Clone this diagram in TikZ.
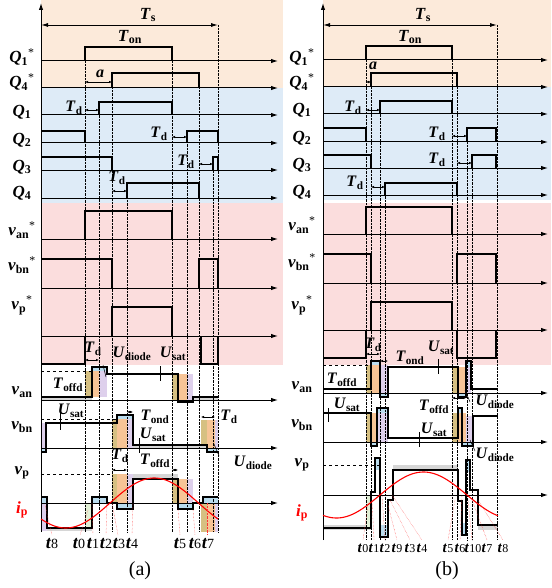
\documentclass[tikz,border=0pt]{standalone}
\usepackage{fontspec}
\setmainfont{Liberation Serif}
\usetikzlibrary{arrows.meta}

\definecolor{bgorange}{RGB}{252,234,218}
\definecolor{bgblue}{RGB}{222,235,247}
\definecolor{bgpink}{RGB}{251,221,221}
\definecolor{khaki}{RGB}{214,192,130}
\definecolor{orng}{RGB}{247,196,150}
\definecolor{lav}{RGB}{222,208,236}
\definecolor{lblue}{RGB}{186,220,238}
\definecolor{lgrey}{RGB}{214,214,214}
\definecolor{lgreen}{RGB}{226,240,214}

\newcommand{\sgl}[2]{\textbf{\textit{#1}}\textsubscript{\textbf{#2}}}
\newcommand{\sgs}[2]{\textbf{\textit{#1}}\textsubscript{\textbf{#2}}\textsuperscript{*}}
\newcommand{\tma}[1]{{\fontsize{18}{18}\selectfont\textbf{\textit{t}}}{\fontsize{14}{14}\selectfont #1}}
\newcommand{\tmb}[1]{{\fontsize{15}{15}\selectfont\textbf{\textit{t}}}{\fontsize{12}{12}\selectfont #1}}

\begin{document}
\begin{tikzpicture}[x=1pt, y=-1pt,
    wave/.style={line width=1.1pt},
    taxis/.style={-{Latex[length=7pt,width=4.5pt]}, line width=1pt},
    period/.style={{Latex[length=7pt,width=4pt]}-{Latex[length=7pt,width=4pt]}, line width=0.9pt},
    dim/.style={{Latex[length=3pt,width=2.5pt]}-{Latex[length=3pt,width=2.5pt]}, line width=0.5pt},
    levtick/.style={line width=0.5pt},
    guide/.style={densely dotted, line width=0.4pt},
    tguide/.style={densely dotted, red!80, line width=0.4pt},
    lab/.style={font=\fontsize{17}{17}\selectfont, inner sep=0pt},
    note/.style={font=\fontsize{16}{16}\selectfont, inner sep=0pt},
    tlab/.style={inner sep=0pt}
]
\useasboundingbox (0,0) rectangle (551,588);

% backgrounds
\fill[bgorange] (41,0) rectangle (283,88);
\fill[bgblue] (41,88) rectangle (283,203);
\fill[bgpink] (41,203) rectangle (283,365);
\fill[bgorange] (323,0) rectangle (551,87);
\fill[bgblue] (323,87) rectangle (551,200);
\fill[bgpink] (323,203) rectangle (551,365);

% transition bands (a)
\fill[khaki] (85,371) rectangle (92,397);
\fill[orng] (92,371) rectangle (99,397);
\fill[lav] (99,371) rectangle (107,397);
\fill[lblue] (92,367) rectangle (107,371);
\fill[khaki] (172,374) rectangle (178,400);
\fill[orng] (178,374) rectangle (187,400);
\fill[lav] (187,374) rectangle (193,400);
\fill[lblue] (178,400) rectangle (193,402);
\fill[lgrey] (41,397) rectangle (92,400);
\fill[lgrey] (193,397) rectangle (218,400);
\fill[lav] (41,423) rectangle (46,448);
\fill[lblue] (41,448) rectangle (46,452);
\fill[khaki] (112,419) rectangle (117,448);
\fill[orng] (117,419) rectangle (127,448);
\fill[lav] (127,419) rectangle (133,448);
\fill[lblue] (117,415) rectangle (133,419);
\fill[khaki] (201,420) rectangle (207,448);
\fill[orng] (207,420) rectangle (215,448);
\fill[lav] (215,420) rectangle (218,448);
\fill[lblue] (207,448) rectangle (218,452);
\fill[lgrey] (133,445) rectangle (207,448);
\fill[lgrey] (133,474) rectangle (178,479);
\fill[khaki] (112,474) rectangle (117,503);
\fill[orng] (117,474) rectangle (127,503);
\fill[lav] (127,474) rectangle (133,503);
\fill[khaki] (172,479) rectangle (178,503);
\fill[orng] (178,479) rectangle (187,503);
\fill[lav] (187,479) rectangle (193,503);
\fill[lblue] (41,497) rectangle (47,503);
\fill[lblue] (92,497) rectangle (107,503);
\fill[lblue] (117,503) rectangle (133,509);
\fill[lblue] (178,503) rectangle (193,509);
\fill[lblue] (203,497) rectangle (218,503);
\fill[lav] (41,503) rectangle (47,531);
\fill[lgrey] (47,528) rectangle (92,531);
\fill[lgreen] (85,503) rectangle (92,528);
\fill[khaki] (201,503) rectangle (207,532);
\fill[orng] (207,503) rectangle (215,532);
\fill[lav] (215,503) rectangle (218,532);

% transition bands (b)
\fill[khaki] (366,365) rectangle (371,393);
\fill[orng] (371,365) rectangle (380,393);
\fill[lav] (380,365) rectangle (388,393);
\fill[lblue] (371,361) rectangle (380,365);
\fill[lblue] (380,393) rectangle (388,397);
\fill[khaki] (452,367) rectangle (458,393);
\fill[orng] (458,367) rectangle (466,393);
\fill[lav] (466,367) rectangle (471,393);
\fill[lblue] (458,393) rectangle (466,397);
\fill[lblue] (466,361) rectangle (471,367);
\fill[khaki] (366,413) rectangle (371,442);
\fill[orng] (371,413) rectangle (377,442);
\fill[lav] (377,413) rectangle (388,442);
\fill[lblue] (371,442) rectangle (377,446);
\fill[lblue] (377,408) rectangle (388,413);
\fill[khaki] (452,413) rectangle (458,442);
\fill[orng] (458,413) rectangle (466,442);
\fill[lav] (466,416) rectangle (473,442);
\fill[lblue] (458,408) rectangle (462,413);
\fill[lblue] (462,442) rectangle (473,446);
\fill[lgrey] (393,465) rectangle (458,470);
\fill[lblue] (375,458) rectangle (380,470);
\fill[lblue] (380,525) rectangle (388,537);
\fill[lblue] (462,523) rectangle (466,535);
\fill[lblue] (466,460) rectangle (470,472);
\fill[lgrey] (323,525) rectangle (371,530);
\fill[lgrey] (478,525) rectangle (498,530);
\fill[lgreen] (366,495) rectangle (371,528);

% dotted guides
\foreach \x/\ya in {85/47, 99/102, 112/73, 127/183, 172/47, 187/131, 199/73, 213/157, 218/25}
  \draw[guide] (\x,\ya) -- (\x,532);
\foreach \x/\ya in {366/46, 371/73, 380/101, 385/183, 452/46, 457/73, 467/128, 472/155, 497/25}
  \draw[guide] (\x,\ya) -- (\x,540);

% dashed reference levels
\draw[dashed, line width=0.7pt] (41,371) -- (92,371);
\draw[dashed, line width=0.7pt] (41,419) -- (117,419);
\draw[dashed, line width=0.7pt] (41,474) -- (112,474);
\draw[dashed, line width=0.7pt] (323,365) -- (371,365);
\draw[dashed, line width=0.7pt] (323,413) -- (371,413);
\draw[dashed, line width=0.7pt] (323,465) -- (380,465);

% axes
\foreach \y in {61,88,115,143,170,198,239,288,336,400,448,503}
  \draw[taxis] (41,\y) -- (278,\y);
\foreach \y in {60,87,114,142,168,195,234,283,330,393,442,495}
  \draw[taxis] (323,\y) -- (548,\y);
\draw[taxis] (41,532) -- (41,3);
\draw[taxis] (323,540) -- (323,3);
\draw[period] (41,25) -- (218,25);
\draw[period] (323,25) -- (497,25);

% waveforms (a)
\draw[wave] (85,61) -- (85,47) -- (172,47) -- (172,61);
\draw[wave] (112,88) -- (112,73) -- (199,73) -- (199,88);
\draw[wave] (99,115) -- (99,102) -- (172,102) -- (172,115);
\draw[wave] (41,131) -- (85,131) -- (85,143);
\draw[wave] (187,143) -- (187,131) -- (218,131) -- (218,143);
\draw[wave] (41,157) -- (112,157) -- (112,170);
\draw[wave] (213,170) -- (213,157) -- (218,157) -- (218,170);
\draw[wave] (127,198) -- (127,183) -- (199,183) -- (199,198);
\draw[wave] (85,239) -- (85,211) -- (172,211) -- (172,239);
\draw[wave] (41,259) -- (112,259) -- (112,288);
\draw[wave] (199,288) -- (199,259) -- (218,259) -- (218,288);
\draw[wave] (112,336) -- (112,307) -- (172,307) -- (172,336);
\draw[wave] (41,364) -- (85,364) -- (85,336);
\draw[wave] (201,336) -- (201,364) -- (218,364) -- (218,336);
\draw[wave] (41,397) -- (92,397) -- (92,367) -- (107,367) -- (107,374) -- (178,374)
  -- (178,402) -- (193,402) -- (193,397) -- (218,397);
\draw[wave] (41,452) -- (46,452) -- (46,423) -- (117,423) -- (117,415) -- (133,415)
  -- (133,445) -- (207,445) -- (207,452) -- (218,452);
\draw[wave] (41,497) -- (47,497) -- (47,528) -- (92,528) -- (92,497) -- (107,497)
  -- (107,503) -- (117,503) -- (117,509) -- (133,509) -- (133,479) -- (178,479)
  -- (178,509) -- (193,509) -- (193,503) -- (203,503) -- (203,497) -- (218,497);
\draw[red, line width=1.1pt, domain=41:218, samples=80] plot (\x, {503-25*sin(2.0339*(\x-110))});

% waveforms (b)
\draw[wave] (366,60) -- (366,46) -- (452,46) -- (452,60);
\draw[wave] (371,87) -- (371,73) -- (457,73) -- (457,87);
\draw[wave] (380,114) -- (380,101) -- (452,101) -- (452,114);
\draw[wave] (323,128) -- (366,128) -- (366,142);
\draw[wave] (467,142) -- (467,128) -- (496,128) -- (496,142);
\draw[wave] (323,155) -- (371,155) -- (371,168);
\draw[wave] (472,168) -- (472,155) -- (496,155) -- (496,168);
\draw[wave] (385,195) -- (385,183) -- (457,183) -- (457,195);
\draw[wave] (366,234) -- (366,207) -- (452,207) -- (452,234);
\draw[wave] (323,254) -- (371,254) -- (371,283);
\draw[wave] (457,283) -- (457,254) -- (496,254) -- (496,283);
\draw[wave] (371,330) -- (371,302) -- (452,302) -- (452,330);
\draw[wave] (323,358) -- (366,358) -- (366,330);
\draw[wave] (457,330) -- (457,358) -- (496,358) -- (496,330);
\draw[wave] (323,389) -- (371,389) -- (371,361) -- (380,361) -- (380,397) -- (388,397)
  -- (388,367) -- (458,367) -- (458,397) -- (466,397) -- (466,361) -- (471,361)
  -- (471,389) -- (498,389);
\draw[wave] (323,413) -- (371,413) -- (371,446) -- (377,446) -- (377,408) -- (388,408)
  -- (388,438) -- (458,438) -- (458,408) -- (462,408) -- (462,446) -- (473,446)
  -- (473,416) -- (498,416);
\draw[wave] (323,528) -- (371,528) -- (371,492) -- (375,492) -- (375,458) -- (380,458)
  -- (380,537) -- (388,537) -- (388,500) -- (393,500) -- (393,470) -- (458,470)
  -- (458,501) -- (462,501) -- (462,535) -- (466,535) -- (466,460) -- (470,460)
  -- (470,490) -- (478,490) -- (478,525) -- (498,525);
\draw[red, line width=1.1pt, domain=323:498, samples=80] plot (\x, {495-23*sin(2.069*(\x-380))});

% time spans (a)
\draw[dim] (85,82) -- (112,82);
\draw[dim] (85,110) -- (99,110);
\draw[dim] (172,137) -- (187,137);
\draw[dim] (199,164) -- (213,164);
\draw[dim] (112,191) -- (127,191);
\draw[dim] (85,360) -- (99,360);
\draw[dim] (127,412) -- (133,412);
\draw[dim] (201,417) -- (215,417);
\draw[dim] (112,470) -- (127,470);
\draw[dim] (172,470) -- (178,470);
\draw[levtick] (60,413) -- (60,430);
\draw[levtick] (103,365) -- (106,377);
\draw[levtick] (160,366) -- (160,381);
\draw[levtick] (139,438) -- (139,453);
\draw[levtick] (214,444) -- (219,456);

% time spans (b)
\draw[dim] (366,82) -- (371,82);
\draw[dim] (366,110) -- (380,110);
\draw[dim] (452,136) -- (467,136);
\draw[dim] (457,163) -- (472,163);
\draw[dim] (371,187) -- (385,187);
\draw[dim] (366,354) -- (380,354);
\draw[dim] (380,361) -- (388,361);
\draw[dim] (452,398) -- (466,398);
\draw[levtick] (328,408) -- (328,422);
\draw[levtick] (438,359) -- (438,374);
\draw[levtick] (419,432) -- (419,447);
\draw[levtick] (465,390) -- (470,402);
\draw[levtick] (470,440) -- (475,451);

% signal names (a)
\node[lab] (q1sa) at (22,57) {\sgs{Q}{1}};
\node[lab] (q4sa) at (22,82) {\sgs{Q}{4}};
\node[lab] (q1a) at (22,112) {\sgl{Q}{1}};
\node[lab] (q2a) at (22,140) {\sgl{Q}{2}};
\node[lab] (q3a) at (22,167) {\sgl{Q}{3}};
\node[lab] (q4a) at (22,193) {\sgl{Q}{4}};
\node[lab] (vansa) at (22,230) {\sgs{v}{an}};
\node[lab] (vbnsa) at (22,265) {\sgs{v}{bn}};
\node[lab] (vpsa) at (22,305) {\sgs{v}{p}};
\node[lab] (vana) at (22,392) {\sgl{v}{an}};
\node[lab] (vbna) at (22,427) {\sgl{v}{bn}};
\node[lab] (vpa) at (22,473) {\sgl{v}{p}};
\node[lab, red] (ipa) at (22,510) {\sgl{i}{p}};

% signal names (b)
\node[lab] (q1sb) at (302,57) {\sgs{Q}{1}};
\node[lab] (q4sb) at (302,82) {\sgs{Q}{4}};
\node[lab] (q1b) at (302,110) {\sgl{Q}{1}};
\node[lab] (q2b) at (302,138) {\sgl{Q}{2}};
\node[lab] (q3b) at (302,165) {\sgl{Q}{3}};
\node[lab] (q4b) at (302,192) {\sgl{Q}{4}};
\node[lab] (vansb) at (302,225) {\sgs{v}{an}};
\node[lab] (vbnsb) at (302,262) {\sgs{v}{bn}};
\node[lab] (vpsb) at (302,305) {\sgs{v}{p}};
\node[lab] (vanb) at (302,387) {\sgl{v}{an}};
\node[lab] (vbnb) at (302,425) {\sgl{v}{bn}};
\node[lab] (vpb) at (302,465) {\sgl{v}{p}};
\node[lab, red] (ipb) at (302,513) {\sgl{i}{p}};

% annotations (a)
\node[lab] (tsa) at (148,15) {\sgl{T}{s}};
\node[lab] (tona) at (130,37) {\sgl{T}{on}};
\node[note] (alpa) at (100,74) {\textbf{\textit{a}}};
\node[note] (td1a) at (74,108) {\sgl{T}{d}};
\node[note] (td2a) at (159,134) {\sgl{T}{d}};
\node[note] (td3a) at (186,162) {\sgl{T}{d}};
\node[note] (td4a) at (117,178) {\sgl{T}{d}};
\node[note] (td5a) at (93,349) {\sgl{T}{d}};
\node[note] (uda) at (132,354) {\sgl{U}{diode}};
\node[note] (usa) at (173,354) {\sgl{U}{sat}};
\node[note] (tfa) at (68,385) {\sgl{T}{offd}};
\node[note] (us2a) at (71,411) {\sgl{U}{sat}};
\node[note] (tna) at (155,417) {\sgl{T}{ond}};
\node[note] (td6a) at (229,417) {\sgl{T}{d}};
\node[note] (us3a) at (153,435) {\sgl{U}{sat}};
\node[note] (tf2a) at (155,461) {\sgl{T}{offd}};
\node[note] (ud2a) at (253,463) {\sgl{U}{diode}};
\node[note] (td7a) at (120,456) {\sgl{T}{d}};

% annotations (b)
\node[lab] (tsb) at (423,15) {\sgl{T}{s}};
\node[lab] (tonb) at (410,37) {\sgl{T}{on}};
\node[note] (alpb) at (373,66) {\textbf{\textit{a}}};
\node[note] (td1b) at (353,108) {\sgl{T}{d}};
\node[note] (td2b) at (437,134) {\sgl{T}{d}};
\node[note] (td3b) at (437,160) {\sgl{T}{d}};
\node[note] (td4b) at (355,183) {\sgl{T}{d}};
\node[note] (td5b) at (373,345) {\sgl{T}{d}};
\node[note] (tnb) at (410,358) {\sgl{T}{ond}};
\node[note] (usb) at (441,348) {\sgl{U}{sat}};
\node[note] (tfb) at (342,380) {\sgl{T}{offd}};
\node[note] (us2b) at (347,405) {\sgl{U}{sat}};
\node[note] (tf2b) at (434,407) {\sgl{T}{offd}};
\node[note] (udb) at (495,402) {\sgl{U}{diode}};
\node[note] (us3b) at (434,430) {\sgl{U}{sat}};
\node[note] (ud2b) at (495,455) {\sgl{U}{diode}};

% instants (a)
\foreach \nm/\xe/\ye/\xl in {8/45/505/52, 0/88/510/80, 1/92/503/93, 2/107/503/106,
    3/112/503/118, 4/133/503/132, 5/178/509/180, 6/193/509/195, 7/207/503/207}
  \draw[tguide] (\xe,\ye) -- (\xl,535);
\node[tlab] (t8a) at (52,544) {\tma{8}};
\node[tlab] (t0a) at (79,544) {\tma{0}};
\node[tlab] (t1a) at (93,544) {\tma{1}};
\node[tlab] (t2a) at (106,544) {\tma{2}};
\node[tlab] (t3a) at (119,544) {\tma{3}};
\node[tlab] (t4a) at (132,544) {\tma{4}};
\node[tlab] (t5a) at (180,544) {\tma{5}};
\node[tlab] (t6a) at (195,544) {\tma{6}};
\node[tlab] (t7a) at (208,544) {\tma{7}};

% instants (b)
\foreach \nm/\xe/\ye/\xl in {0/368/505/363, 1/372/500/374, 2/382/495/385, 9/388/505/397,
    3/390/500/410, 4/392/495/422, 5/455/500/448, 6/462/495/460, 10/468/500/472,
    7/472/500/487, 8/478/500/503}
  \draw[tguide] (\xe,\ye) -- (\xl,540);
\node[tlab] (t0b) at (363,548) {\tmb{0}};
\node[tlab] (t1b) at (374,548) {\tmb{1}};
\node[tlab] (t2b) at (385,548) {\tmb{2}};
\node[tlab] (t9b) at (397,548) {\tmb{9}};
\node[tlab] (t3b) at (410,548) {\tmb{3}};
\node[tlab] (t4b) at (422,548) {\tmb{4}};
\node[tlab] (t5b) at (448,548) {\tmb{5}};
\node[tlab] (t6b) at (460,548) {\tmb{6}};
\node[tlab] (t10b) at (473,548) {\tmb{10}};
\node[tlab] (t7b) at (487,548) {\tmb{7}};
\node[tlab] (t8b) at (503,548) {\tmb{8}};

\node[font=\fontsize{20}{20}\selectfont] (capa) at (140,571) {(a)};
\node[font=\fontsize{20}{20}\selectfont] (capb) at (447,571) {(b)};
\end{tikzpicture}
\end{document}
